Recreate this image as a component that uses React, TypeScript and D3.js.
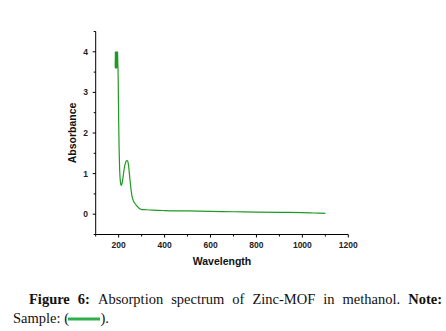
import React from "react";
import * as d3 from "d3";

const wavelength = [
  185, 185.5, 186, 186.5, 187, 187.5, 188, 188.5, 189, 189.5, 190, 190.5, 191, 191.5, 192, 192.5, 193, 193.5, 194, 194.5, 195, 195.5, 196,
  197, 198, 199, 200, 202, 204, 206, 208, 210, 212, 215, 220, 225, 230, 235, 239, 243, 247, 252, 258, 264, 270, 280, 290, 298, 320, 350, 400, 500, 600, 700, 800, 900, 1000, 1050, 1100,
];
const absorbance = [
  3.62, 4.0, 3.6, 3.98, 3.62, 4.0, 3.6, 3.98, 3.64, 4.0, 3.6, 3.97, 3.62, 4.0, 3.6, 3.98, 3.62, 4.0, 3.62, 3.98, 3.6, 4.0, 3.8,
  3.6, 3.3, 2.8, 2.3, 1.6, 1.15, 0.9, 0.78, 0.72, 0.71, 0.76, 0.95, 1.15, 1.27, 1.32, 1.31, 1.2, 0.98, 0.7, 0.45, 0.33, 0.27, 0.2, 0.14, 0.12, 0.11, 0.1, 0.09, 0.08, 0.07, 0.06, 0.05, 0.045, 0.04, 0.03, 0.02,
];
const xMajorTicks = [200, 400, 600, 800, 1000, 1200];
const xMinorTicks = [100, 300, 500, 700, 900, 1100];
const yMajorTicks = [0, 1, 2, 3, 4];
const yMinorTicks = [-0.5, 0.5, 1.5, 2.5, 3.5, 4.5];

const line1Words = [
  { t: "Figure", b: true },
  { t: "6:", b: true },
  { t: "Absorption", b: false },
  { t: "spectrum", b: false },
  { t: "of", b: false },
  { t: "Zinc-MOF", b: false },
  { t: "in", b: false },
  { t: "methanol.", b: false },
  { t: "Note:", b: true },
];

const serif = "'Times New Roman', 'Liberation Serif', serif";
const capSize = 14.5;

function justify(left: number, right: number) {
  let widths: number[] = [];
  try {
    const ctx = document.createElement("canvas").getContext("2d")!;
    widths = line1Words.map((w) => {
      ctx.font = `${w.b ? "bold " : ""}${capSize}px 'Liberation Serif', serif`;
      return ctx.measureText(w.t).width;
    });
  } catch (e) {
    widths = line1Words.map((w) => w.t.length * capSize * 0.5);
  }
  const total = widths.reduce((a, b) => a + b, 0);
  const gap = (right - left - total) / (line1Words.length - 1);
  let pos = left;
  return widths.map((wd) => {
    const p = pos;
    pos += wd + gap;
    return p;
  });
}

export default function App() {
  const x = d3.scaleLinear().domain([100, 1200]).range([95.7, 348.3]);
  const y = d3.scaleLinear().domain([-0.5, 4.5]).range([234.5, 31.5]);
  const pts = wavelength.map((w, i) => [w, absorbance[i]] as [number, number]);
  const path = d3
    .line<[number, number]>()
    .x((d) => x(d[0]))
    .y((d) => y(d[1]))
    .curve(d3.curveMonotoneX)(pts) as string;
  const axisFont = "Arial, 'Liberation Sans', sans-serif";
  const wordX = justify(29, 442);
  return (
    <svg width={446} height={331} style={{ position: "absolute", left: 0, top: 0, background: "#fff" }}>
      <rect width={446} height={331} fill="#fff" />
      <path d={path} fill="none" stroke="#1f9a22" strokeWidth={1.2} strokeLinejoin="round" />
      {/* axes */}
      <line x1={x(100)} x2={x(1200)} y1={y(-0.5)} y2={y(-0.5)} stroke="#000" strokeWidth={1} />
      <line x1={x(100)} x2={x(100)} y1={y(-0.5)} y2={y(4.5)} stroke="#000" strokeWidth={1} />
      {xMajorTicks.map((t) => (
        <g key={"xM" + t}>
          <line x1={x(t)} x2={x(t)} y1={y(-0.5)} y2={y(-0.5) + 3} stroke="#000" />
          <text x={x(t)} y={248} textAnchor="middle" fontFamily={axisFont} fontWeight="bold" fontSize={8.5} fill="#222">
            {t}
          </text>
        </g>
      ))}
      {xMinorTicks.map((t) => (
        <line key={"xm" + t} x1={x(t)} x2={x(t)} y1={y(-0.5)} y2={y(-0.5) + 2} stroke="#000" />
      ))}
      {yMajorTicks.map((t) => (
        <g key={"yM" + t}>
          <line x1={x(100) - 3} x2={x(100)} y1={y(t)} y2={y(t)} stroke="#000" />
          <text x={88} y={y(t) + 3} textAnchor="end" fontFamily={axisFont} fontWeight="bold" fontSize={8.5} fill="#222">
            {t}
          </text>
        </g>
      ))}
      {yMinorTicks.map((t) => (
        <line key={"ym" + t} x1={x(100) - 2} x2={x(100)} y1={y(t)} y2={y(t)} stroke="#000" />
      ))}
      <text x={222} y={265} textAnchor="middle" fontFamily={axisFont} fontWeight="bold" fontSize={10.5} fill="#111">
        Wavelength
      </text>
      <text
        transform={`translate(76,${(y(-0.5) + y(4.5)) / 2}) rotate(-90)`}
        textAnchor="middle"
        fontFamily={axisFont}
        fontWeight="bold"
        fontSize={10.5}
        fill="#111"
      >
        Absorbance
      </text>
      {/* caption */}
      {line1Words.map((w, i) => (
        <text key={w.t} x={wordX[i]} y={304} fontFamily={serif} fontSize={capSize} fontWeight={w.b ? "bold" : "normal"} fill="#111">
          {w.t}
        </text>
      ))}
      <text x={13} y={323} fontFamily={serif} fontSize={capSize} fill="#111">
        Sample: (
      </text>
      <line x1={68} x2={100} y1={319} y2={319} stroke="#2db04a" strokeWidth={3} />
      <text x={100.5} y={323} fontFamily={serif} fontSize={capSize} fill="#111">
        ).
      </text>
    </svg>
  );
}
